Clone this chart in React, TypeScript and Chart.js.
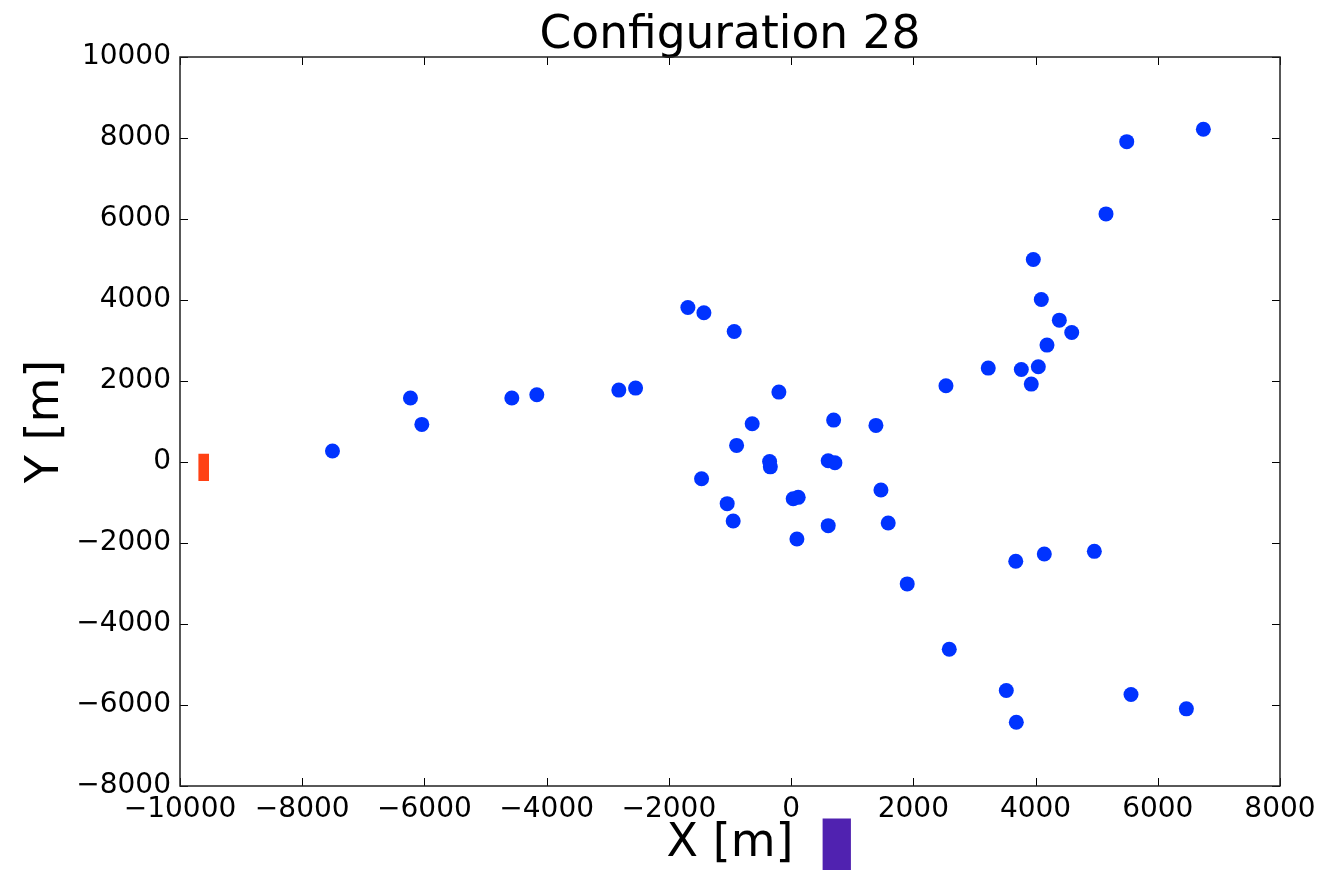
import React, { useEffect, useRef } from "react";
import { Chart, registerables } from "chart.js";

Chart.register(...registerables);

const titleText = "Configuration 28";
const xAxisLabel = "X [m]";
const yAxisLabel = "Y [m]";

const xTickValues = [-10000, -8000, -6000, -4000, -2000, 0, 2000, 4000, 6000, 8000];
const yTickValues = [-8000, -6000, -4000, -2000, 0, 2000, 4000, 6000, 8000, 10000];

const stationX = [
  -7505, -6229, -6043, -4570, -4161, -2819, -2545,
  -1689, -1427, -931, -200, -637, 696, 1388, -892,
  -352, -340, 607, 717, -1465, 1470, -1046, 34, 116,
  -948, 607, 1589, 95,
  1900, 2588, 3521, 3685, 3676, 4143, 4962, 5562, 6468,
  6746, 5492, 5153, 3963, 4094, 4389, 4592, 4187, 3226, 3767, 4045, 3930, 2534,
];
const stationY = [
  271, 1579, 928, 1579, 1660, 1776, 1825,
  3815, 3684, 3223, 1726, 945, 1035, 904, 410,
  10, -120, 32, -17, -412, -691, -1029, -906, -873,
  -1456, -1572, -1505, -1900,
  -3010, -4624, -5643, -6425, -2452, -2270, -2206, -5742, -6095,
  8216, 7910, 6126, 4999, 4012, 3503, 3198, 2886, 2319, 2285, 2351, 1924, 1883,
];

const redMarkX = [-9612, -9612];
const redMarkY = [205, -469];
const purpleMarkX = [747, 747];
const purpleMarkY = [-8801, -10400];

const FONT = "'DejaVu Sans', sans-serif";

const fmt = (v: number) => String(v).replace("-", "\u2212");

const framePlugin = {
  id: "frame",
  afterDatasetsDraw(chart: any) {
    const { ctx, chartArea: a, scales } = chart;
    const xs = scales.x;
    const ys = scales.y;
    ctx.save();
    ctx.strokeStyle = "#000";
    ctx.lineWidth = 1;
    const tl = 8;
    ctx.beginPath();
    xTickValues.forEach((v) => {
      const px = Math.round(xs.getPixelForValue(v)) + 0.5;
      ctx.moveTo(px, a.bottom);
      ctx.lineTo(px, a.bottom - tl);
      ctx.moveTo(px, a.top);
      ctx.lineTo(px, a.top + tl);
    });
    yTickValues.forEach((v) => {
      const py = Math.round(ys.getPixelForValue(v)) + 0.5;
      ctx.moveTo(a.left, py);
      ctx.lineTo(a.left + tl, py);
      ctx.moveTo(a.right, py);
      ctx.lineTo(a.right - tl, py);
    });
    ctx.stroke();
    ctx.lineWidth = 1.5;
    ctx.strokeStyle = "#222";
    ctx.strokeRect(a.left, a.top, a.right - a.left, a.bottom - a.top);
    ctx.restore();
  },
};

export default function App() {
  const canvasRef = useRef<HTMLCanvasElement | null>(null);

  useEffect(() => {
    if (!canvasRef.current) return;
    const points = stationX.map((x, i) => ({ x, y: stationY[i] }));
    const red = redMarkX.map((x, i) => ({ x, y: redMarkY[i] }));
    const purple = purpleMarkX.map((x, i) => ({ x, y: purpleMarkY[i] }));

    const chart = new Chart(canvasRef.current, {
      type: "scatter",
      data: {
        datasets: [
          {
            type: "line",
            data: red,
            borderColor: "#ff4114",
            borderWidth: 10.6,
            borderCapStyle: "butt",
            pointRadius: 0,
            showLine: true,
            fill: false,
          } as any,
          {
            type: "line",
            data: purple,
            borderColor: "#5022b0",
            borderWidth: 28.3,
            borderCapStyle: "butt",
            pointRadius: 0,
            showLine: true,
            fill: false,
            clip: false,
          } as any,
          {
            data: points,
            backgroundColor: "#0033ff",
            borderColor: "#0033ff",
            borderWidth: 0,
            pointRadius: 7.5,
            pointHoverRadius: 7.5,
          },
        ],
      },
      options: {
        animation: false,
        responsive: false,
        events: [],
        layout: { padding: { left: 0, right: 49, top: 0, bottom: 0 } },
        plugins: {
          legend: { display: false },
          tooltip: { enabled: false },
          title: { display: false },
        },
        scales: {
          x: {
            type: "linear",
            position: "bottom",
            min: -10000,
            max: 8000,
            afterBuildTicks: (scale: any) => {
              scale.ticks = xTickValues.map((v) => ({ value: v }));
            },
            afterFit: (scale: any) => {
              scale.height = 84;
            },
            grid: { display: false, drawTicks: false },
            border: { display: false },
            ticks: {
              autoSkip: false,
              maxRotation: 0,
              minRotation: 0,
              padding: 7,
              color: "#000",
              font: { family: FONT, size: 28 },
              callback: (v: any) => fmt(Number(v)),
            },
            title: {
              display: true,
              text: xAxisLabel,
              color: "#000",
              font: { family: FONT, size: 46, lineHeight: 1 },
              padding: { top: 0, bottom: 3 },
            },
          },
          xTop: {
            type: "linear",
            position: "top",
            min: -10000,
            max: 8000,
            afterFit: (scale: any) => {
              scale.height = 57;
            },
            grid: { display: false, drawTicks: false },
            border: { display: false },
            ticks: { display: false },
            title: {
              display: true,
              text: titleText,
              color: "#000",
              font: { family: FONT, size: 45.5, lineHeight: 1 },
              padding: { top: 13, bottom: 0 },
            },
          },
          y: {
            type: "linear",
            min: -8000,
            max: 10000,
            afterBuildTicks: (scale: any) => {
              scale.ticks = yTickValues.map((v) => ({ value: v }));
            },
            afterFit: (scale: any) => {
              scale.width = 180;
            },
            grid: { display: false, drawTicks: false },
            border: { display: false },
            ticks: {
              autoSkip: false,
              padding: 9,
              color: "#000",
              font: { family: FONT, size: 28 },
              callback: (v: any) => fmt(Number(v)),
            },
            title: {
              display: true,
              text: yAxisLabel,
              color: "#000",
              font: { family: FONT, size: 46, lineHeight: 1 },
              padding: { top: 23, bottom: 0 },
            },
          },
        },
      } as any,
      plugins: [framePlugin],
    });
    return () => chart.destroy();
  }, []);

  return (
    <div style={{ position: "absolute", left: 0, top: 0, width: 1329, height: 870, background: "#fff" }}>
      <canvas ref={canvasRef} width={1329} height={870} style={{ display: "block" }} />
    </div>
  );
}
